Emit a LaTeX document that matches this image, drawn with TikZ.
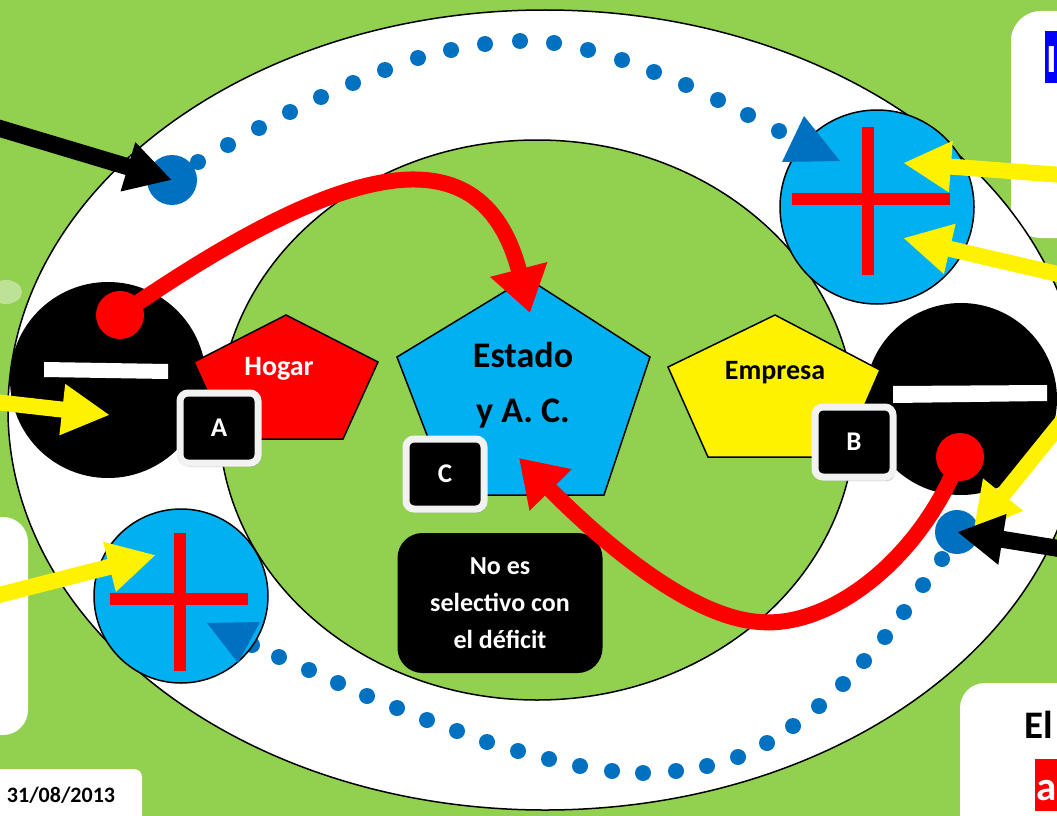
\documentclass[tikz,border=0pt]{standalone}
\usepackage{fontspec}
\setmainfont{Carlito}
\usepackage{tikz}
\usepackage{xcolor}
\usetikzlibrary{shapes,arrows.meta,positioning,calc,shadows}

\definecolor{leaf}{HTML}{92D050}
\definecolor{sky}{HTML}{00B0F0}
\definecolor{dotblue}{HTML}{0070C0}
\definecolor{boxgray}{HTML}{F2F2F2}

\begin{document}
\begin{tikzpicture}[x=1pt,y=-1pt,
    pluscirc/.style={circle,draw,line width=1.5pt,fill=sky,inner sep=0pt},
    minuscirc/.style={circle,fill=black,inner sep=0pt},
    bigdot/.style={circle,fill=dotblue,inner sep=0pt},
    reddot/.style={circle,fill=red,inner sep=0pt,minimum size=48pt},
    agent/.style={font=\bfseries\fontsize{28}{28}\selectfont},
    lbl/.style={draw=boxgray,line width=7pt,fill=black,rounded corners=8pt,
        minimum width=78pt,minimum height=70pt,text=white,
        font=\bfseries\fontsize{27}{27}\selectfont,
        drop shadow={shadow xshift=2pt,shadow yshift=-4pt,fill=black!40,opacity=.5}},
    flow/.style={red,line width=16pt,-{Triangle[length=45pt,width=56pt]}},
    yarrow/.style={yellow,line width=16pt,-{Triangle[length=48pt,width=48pt]}},
    barrow/.style={black,line width=17pt,-{Triangle[length=46pt,width=48pt]}}]
    % Background
    \fill[leaf] (0,0) rectangle (1057,816);
    \useasboundingbox (0,0) rectangle (1057,816);
    \fill[white,opacity=.4] (6,292) ellipse [x radius=16pt,y radius=12pt];

    % Side boxes
    \fill[white,rounded corners=30pt] (1011,11) rectangle (1110,238);
    \fill[blue] (1045,31) rectangle (1080,83);
    \node[anchor=base west,inner sep=0pt,text=white,font=\bfseries\fontsize{40}{40}\selectfont] (titleI) at (1046,72) {I};
    \fill[white,rounded corners=25pt] (-40,517) rectangle (28,735);
    \fill[white,rounded corners=8pt] (-20,769) rectangle (142,840);
    \node[font=\bfseries\fontsize{22}{22}\selectfont] (date) at (61,795) {31/08/2013};
    \fill[white,rounded corners=25pt] (960,683) rectangle (1110,850);
    \node[anchor=base west,inner sep=0pt,font=\bfseries\fontsize{39}{39}\selectfont] (titleEl) at (1024,738) {El};
    \fill[red] (1035,759) rectangle (1080,811);
    \node[anchor=base west,inner sep=0pt,text=white,font=\bfseries\fontsize{41}{41}\selectfont] (titleA) at (1036,800) {a};

    % Circuit ring
    \draw[line width=1.5pt,fill=white] (545,410) ellipse [x radius=537pt,y radius=400pt];
    \draw[line width=1.5pt,fill=leaf] (537,420) ellipse [x radius=318pt,y radius=280pt];

    % Dotted flow
    \foreach \p in {(198,162),(228,145),(259,128),(290,112),(321,97),(353,83),(385,70),
        (418,58),(451,50),(485,44),(520,41),(554,43),(588,50),(622,60),(654,72),
        (686,85),(718,100),(748,115),(779,131)}
        \fill[dotblue] \p circle[radius=8pt];
    \foreach \p in {(252,645),(279,657),(309,670),(338,683),(367,696),(397,708),(427,720),
        (457,731),(487,742),(518,751),(549,759),(580,766),(612,771),(643,773),(676,771),
        (707,766),(738,757),(767,743),(793,726),(819,706),(843,684),(864,661),(885,637),
        (904,612),(923,585),(942,559)}
        \fill[dotblue] \p circle[radius=8pt];
    \node[bigdot,minimum size=50pt] (dotL) at (172,180) {};
    \node[bigdot,minimum size=44pt] (dotR) at (957,532) {};

    % Plus circles
    \node[pluscirc,minimum size=194pt] (plusT) at (877,207) {};
    \fill[red] (862,127) rectangle (874,275);
    \fill[red] (792,193) rectangle (950,205);
    \node[pluscirc,minimum size=174pt] (plusB) at (181,596) {};
    \fill[red] (174,533) rectangle (186,671);
    \fill[red] (110,593) rectangle (248,605);
    \fill[dotblue] (804,116) -- (782,162) -- (840,161) -- cycle;
    \fill[dotblue] (207,623) -- (260,622) -- (238,663) -- cycle;

    % Minus circles
    \node[minuscirc,minimum size=196pt] (minusL) at (108,380) {};
    \fill[white] (44,362) -- (168,364) -- (168,379) -- (44,377) -- cycle;
    \node[minuscirc,minimum size=192pt] (minusR) at (961,399) {};
    \fill[white] (893,386) -- (1047,385) -- (1047,401) -- (893,403) -- cycle;

    % Agents
    \draw[line width=1.5pt,fill=red] (286,315) -- (378,362) -- (343,439) -- (229,439) -- (194,362) -- cycle;
    \node[agent,text=white] (hogar) at (279,369) {Hogar};
    \draw[line width=1.5pt,fill=sky] (527,278) -- (650,357) -- (604,495) -- (450,495) -- (397,357) -- cycle;
    \node[align=center,font=\bfseries\fontsize{36}{55}\selectfont] (estado) at (523,385) {Estado\\y A. C.};
    \draw[line width=1.5pt,fill=yellow] (775,315) -- (880,370) -- (842,457) -- (708,457) -- (668,367) -- cycle;
    \node[agent] (empresa) at (775,373) {Empresa};

    % Labels
    \node[lbl] (labA) at (219,428) {A};
    \node[lbl] (labB) at (854,442) {B};
    \node[lbl] (labC) at (445,474) {C};
    \node[fill=black,rounded corners=25pt,minimum width=205pt,minimum height=140pt,
        text=white,align=center,font=\bfseries\fontsize{26}{37}\selectfont] (note) at (500,603)
        {No es\\selectivo con\\el déficit};

    % Deficit flows
    \node[reddot] (debL) at (120,315) {};
    \node[reddot] (debR) at (960,457) {};
    \coordinate (tipE) at (530,313);
    \coordinate (tipW) at (519,458);
    \draw[flow] (debL.center) .. controls (330,170) and (480,120) .. (tipE);
    \draw[flow] (debR.center) .. controls (920,560) and (830,628) .. (760,622)
        .. controls (690,618) and (600,540) .. (tipW);

    % Incoming arrows
    \coordinate (inL) at (-5,402);     \coordinate (inLtip) at (110,415);
    \coordinate (inB) at (-5,596);     \coordinate (inBtip) at (156,555);
    \coordinate (inT1) at (1062,175);  \coordinate (inT1tip) at (903,163);
    \coordinate (inT2) at (1062,275);  \coordinate (inT2tip) at (903,238);
    \coordinate (inR) at (1065,418);   \coordinate (inRtip) at (973,532);
    \draw[yarrow] (inL) -- (inLtip);
    \draw[yarrow] (inB) -- (inBtip);
    \draw[yarrow] (inT1) -- (inT1tip);
    \draw[yarrow] (inT2) -- (inT2tip);
    \draw[yarrow] (inR) -- (inRtip);
    \coordinate (blkL) at (-5,127);
    \coordinate (blkR) at (1062,549);
    \draw[barrow] (blkL) -- (dotL.center);
    \draw[barrow] (blkR) -- (dotR.center);
\end{tikzpicture}
\end{document}
